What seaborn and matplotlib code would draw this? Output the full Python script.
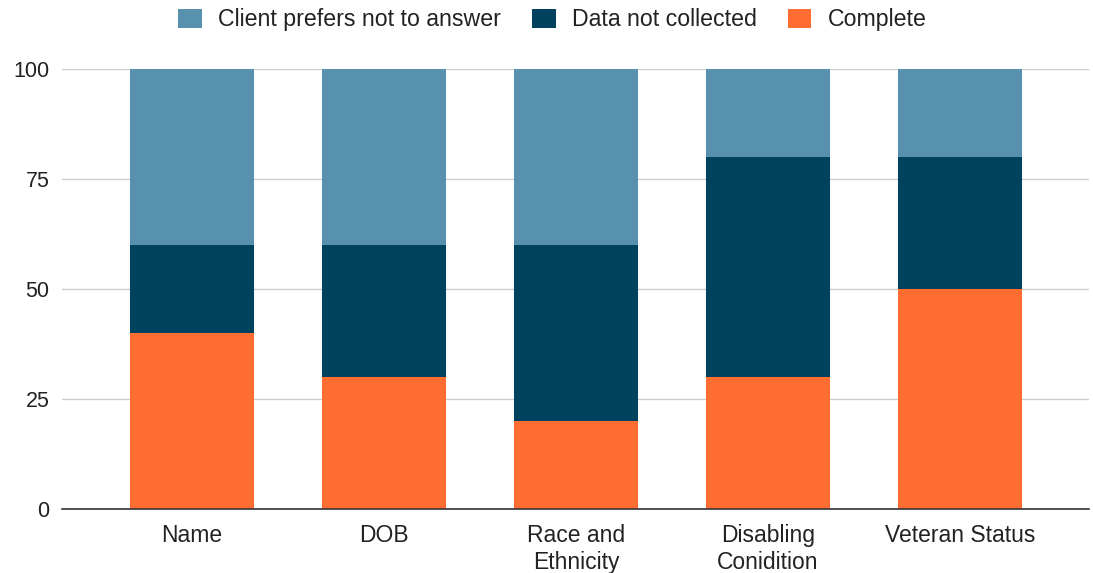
import numpy as np
import pandas as pd
import matplotlib
matplotlib.use("Agg")
import matplotlib.pyplot as plt
from matplotlib.patches import Patch
import seaborn as sns

categories = ["Name", "DOB", "Race and\nEthnicity", "Disabling\nConidition", "Veteran Status"]
complete = [40, 30, 20, 30, 50]
not_collected = [20, 30, 40, 50, 30]
prefers_not = [40, 40, 40, 20, 20]

series_names = ["Client prefers not to answer", "Data not collected", "Complete"]
colors = {"Client prefers not to answer": "#5891ae",
          "Data not collected": "#01435f",
          "Complete": "#ff6d33"}

sns.set_theme(style="white")
plt.rcParams["font.family"] = ["Liberation Sans", "DejaVu Sans"]

df = pd.DataFrame({
    "category": categories,
    "Complete": complete,
    "Data not collected": not_collected,
    "Client prefers not to answer": prefers_not,
})
# stack tops: each layer drawn from the baseline, tallest first
df["top_complete"] = df["Complete"]
df["top_missing"] = df["Complete"] + df["Data not collected"]
df["top_all"] = df["top_missing"] + df["Client prefers not to answer"]

fig = plt.figure(figsize=(10.93, 5.73), dpi=100)
ax = fig.add_axes([0.0567, 0.1117, 0.9396, 0.7679])

bw = 0.645
for col, name in [("top_all", "Client prefers not to answer"),
                  ("top_missing", "Data not collected"),
                  ("top_complete", "Complete")]:
    sns.barplot(data=df, x="category", y=col, color=colors[name], width=bw,
                saturation=1, ax=ax, zorder=3, linewidth=0)

ax.set_ylim(0, 100)
ax.set_xlim(-0.675, 4.67)
ax.set_yticks([0, 25, 50, 75, 100])
ax.set_xlabel("")
ax.set_ylabel("")
ax.yaxis.grid(True, color="#cccccc", linewidth=1, zorder=0)
ax.set_axisbelow(True)
for s in ["top", "right", "left"]:
    ax.spines[s].set_visible(False)
ax.spines["bottom"].set_color("#333333")
ax.spines["bottom"].set_linewidth(1.2)
ax.spines["bottom"].set_zorder(5)
ax.tick_params(axis="both", length=0, colors="#222222")
ax.tick_params(axis="y", labelsize=15.5, pad=9)
ax.tick_params(axis="x", labelsize=16.5, pad=10.5)
for lbl in ax.get_xticklabels():
    lbl.set_linespacing(1.25)

handles = [Patch(facecolor=colors[n], edgecolor="none", label=n) for n in series_names]
fig.legend(handles=handles, loc="upper center", bbox_to_anchor=(0.5055, 1.022), ncol=3,
           frameon=False, fontsize=16.7, handlelength=1.02, handleheight=0.92,
           handletextpad=0.72, columnspacing=1.32, labelcolor="#222222")

fig.savefig("out.png", dpi=100, facecolor="white")
